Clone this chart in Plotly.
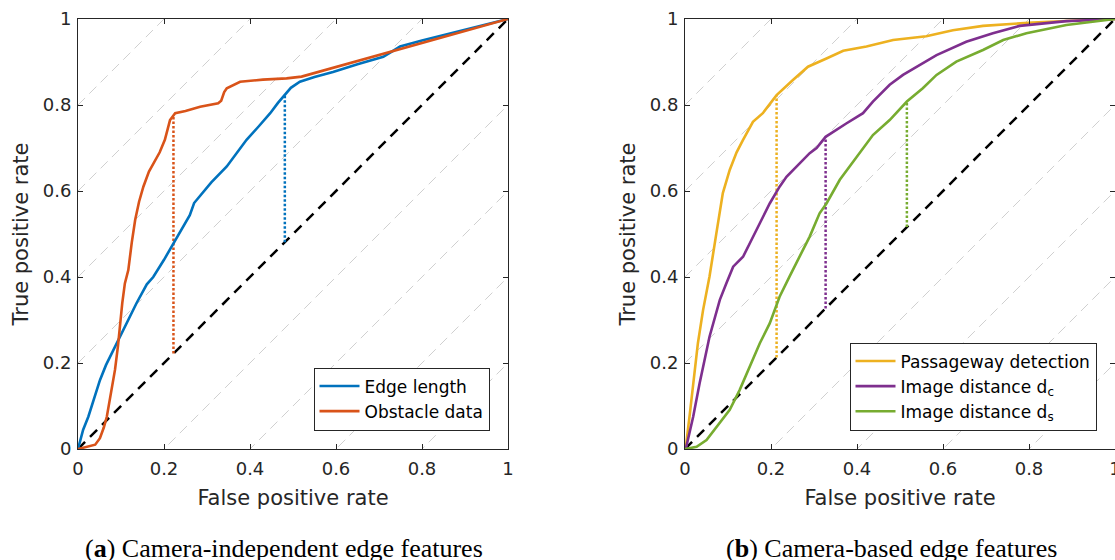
import plotly.graph_objects as go

# ---------------- data ----------------
edge_fpr = [0, 0.005, 0.012, 0.024, 0.035, 0.051, 0.065, 0.082, 0.098, 0.115, 0.136, 0.16, 0.175,
            0.2, 0.222, 0.24, 0.26, 0.27, 0.276, 0.31, 0.346, 0.37, 0.392, 0.42, 0.447, 0.465,
            0.481, 0.495, 0.516, 0.55, 0.593, 0.65, 0.71, 0.749, 0.8, 0.9, 1]
edge_tpr = [0, 0.021, 0.045, 0.075, 0.11, 0.16, 0.195, 0.23, 0.261, 0.295, 0.339, 0.383, 0.40,
            0.44, 0.478, 0.51, 0.544, 0.572, 0.579, 0.62, 0.657, 0.69, 0.719, 0.75, 0.781, 0.805,
            0.823, 0.84, 0.854, 0.865, 0.877, 0.895, 0.912, 0.936, 0.95, 0.975, 1]

obst_fpr = [0, 0.02, 0.04, 0.051, 0.06, 0.067, 0.077, 0.086, 0.093, 0.098, 0.103, 0.109, 0.117,
            0.125, 0.133, 0.142, 0.152, 0.165, 0.179, 0.19, 0.202, 0.208, 0.214, 0.226, 0.25,
            0.284, 0.326, 0.333, 0.34, 0.346, 0.377, 0.43, 0.485, 0.52, 1]
obst_tpr = [0, 0.005, 0.01, 0.025, 0.05, 0.075, 0.13, 0.184, 0.24, 0.3, 0.34, 0.385, 0.416,
            0.48, 0.533, 0.575, 0.61, 0.645, 0.672, 0.69, 0.719, 0.745, 0.765, 0.781, 0.786,
            0.796, 0.804, 0.81, 0.83, 0.839, 0.854, 0.859, 0.862, 0.866, 1]

pass_fpr = [0, 0.003, 0.011, 0.019, 0.03, 0.042, 0.057, 0.073, 0.088, 0.104, 0.12, 0.135, 0.158,
            0.181, 0.213, 0.251, 0.286, 0.329, 0.368, 0.422, 0.484, 0.561, 0.623, 0.693, 0.809,
            0.925, 1]
pass_tpr = [0, 0.013, 0.08, 0.153, 0.246, 0.323, 0.401, 0.502, 0.595, 0.649, 0.69, 0.719, 0.761,
            0.781, 0.823, 0.858, 0.889, 0.908, 0.926, 0.936, 0.951, 0.96, 0.974, 0.984, 0.992,
            0.997, 1]

dc_fpr = [0, 0.003, 0.019, 0.034, 0.057, 0.081, 0.096, 0.112, 0.135, 0.15, 0.174, 0.197, 0.22,
          0.236, 0.259, 0.29, 0.306, 0.327, 0.375, 0.414, 0.437, 0.476, 0.507, 0.546, 0.585,
          0.654, 0.716, 0.778, 0.887, 1]
dc_tpr = [0, 0.005, 0.075, 0.153, 0.261, 0.347, 0.385, 0.424, 0.447, 0.478, 0.525, 0.571, 0.61,
          0.633, 0.657, 0.688, 0.70, 0.726, 0.757, 0.781, 0.808, 0.847, 0.87, 0.893, 0.916,
          0.947, 0.967, 0.984, 0.995, 1]

ds_fpr = [0, 0.027, 0.05, 0.081, 0.104, 0.127, 0.15, 0.174, 0.197, 0.22, 0.243, 0.267, 0.29,
          0.313, 0.329, 0.36, 0.399, 0.437, 0.476, 0.516, 0.553, 0.585, 0.631, 0.693, 0.74,
          0.794, 0.887, 1]
ds_tpr = [0, 0.005, 0.021, 0.06, 0.091, 0.137, 0.191, 0.246, 0.292, 0.354, 0.401, 0.447, 0.494,
          0.548, 0.571, 0.626, 0.68, 0.73, 0.765, 0.808, 0.839, 0.87, 0.901, 0.928, 0.951,
          0.967, 0.986, 1]

# optimal operating points (Youden): FPR and TPR
opt_left_fpr = [0.481, 0.222]
opt_left_tpr = [0.823, 0.775]
opt_right_fpr = [0.213, 0.327, 0.516]
opt_right_tpr = [0.823, 0.726, 0.808]

iso_offsets = [-0.8, -0.6, -0.4, -0.2, 0.2, 0.4, 0.6, 0.8]
tick_vals = [0, 0.2, 0.4, 0.6, 0.8, 1]
tick_text = ["0", "0.2", "0.4", "0.6", "0.8", "1"]

left_names = ["Edge length", "Obstacle data"]
left_colors = ["#0072BD", "#D95319"]
right_names = ["Passageway detection", "Image distance d<sub>c</sub>", "Image distance d<sub>s</sub>"]
right_colors = ["#EDB120", "#7E2F8E", "#77AC30"]

# ---------------- figure ----------------
W, H = 1115, 560
fig = go.Figure()

def add_panel(xa, ya, series, opt_fpr, opt_tpr, colors, names, legend):
    # iso-Youden gray lines
    for k in iso_offsets:
        fig.add_trace(go.Scatter(x=[0, 1], y=[k, 1 + k], mode="lines",
                                 line=dict(color="#d0d0d0", width=1, dash="10px,6px"),
                                 showlegend=False, hoverinfo="skip", xaxis=xa, yaxis=ya))
    # chance diagonal
    fig.add_trace(go.Scatter(x=[0, 1], y=[0, 1], mode="lines",
                             line=dict(color="black", width=2.5, dash="10px,7px"),
                             showlegend=False, hoverinfo="skip", xaxis=xa, yaxis=ya))
    # dotted lines from diagonal to operating point
    for fx, ty, c in zip(opt_fpr, opt_tpr, colors):
        fig.add_trace(go.Scatter(x=[fx, fx], y=[fx, ty], mode="lines",
                                 line=dict(color=c, width=2.5, dash="2.5px,2px"),
                                 showlegend=False, hoverinfo="skip", xaxis=xa, yaxis=ya))
    for (fx, ty), c, n in zip(series, colors, names):
        fig.add_trace(go.Scatter(x=fx, y=ty, mode="lines", name=n,
                                 line=dict(color=c, width=2.6),
                                 legend=legend, xaxis=xa, yaxis=ya))

add_panel("x", "y", [(edge_fpr, edge_tpr), (obst_fpr, obst_tpr)],
          opt_left_fpr, opt_left_tpr, left_colors, left_names, "legend")
add_panel("x2", "y2", [(pass_fpr, pass_tpr), (dc_fpr, dc_tpr), (ds_fpr, ds_tpr)],
          opt_right_fpr, opt_right_tpr, right_colors, right_names, "legend2")

axis_common = dict(range=[0, 1], tickvals=tick_vals, ticktext=tick_text, automargin=False,
                   showgrid=False, zeroline=False, showline=True, linecolor="#262626",
                   linewidth=1, mirror="ticks", ticks="inside", ticklen=5,
                   ticklabeloverflow="allow",
                   tickcolor="#262626", tickfont=dict(family="DejaVu Sans", size=18, color="#262626"),
                   title_font=dict(family="DejaVu Sans", size=21, color="#262626"))

y0, y1 = 1 - 449 / H, 1 - 19 / H
fig.update_layout(
    width=W, height=H, margin=dict(l=0, r=0, t=0, b=0),
    paper_bgcolor="white", plot_bgcolor="white",
    xaxis=dict(domain=[78 / W, 508 / W], anchor="y", title_text="False positive rate",
               title_standoff=12, ticklabelstandoff=3, **axis_common),
    yaxis=dict(domain=[y0, y1], anchor="x", title_text="True positive rate",
               title_standoff=8, ticklabelstandoff=2, **axis_common),
    xaxis2=dict(domain=[685 / W, 1.0], anchor="y2", title_text="False positive rate",
                title_standoff=12, ticklabelstandoff=3, **axis_common),
    yaxis2=dict(domain=[y0, y1], anchor="x2", title_text="True positive rate",
                title_standoff=8, ticklabelstandoff=2, **axis_common),
    legend=dict(x=489.5 / W, y=1 - 430.5 / H, xanchor="right", yanchor="bottom",
                bordercolor="#262626", borderwidth=1, bgcolor="white",
                font=dict(family="DejaVu Sans", size=17, color="#000000"),
                tracegroupgap=0, itemwidth=40),
    legend2=dict(x=1096.5 / W, y=1 - 430.5 / H, xanchor="right", yanchor="bottom",
                 bordercolor="#262626", borderwidth=1, bgcolor="white",
                 font=dict(family="DejaVu Sans", size=17, color="#000000"),
                 tracegroupgap=0, itemwidth=40),
    annotations=[
        dict(text="(<b>a</b>) Camera-independent edge features", x=284 / W, y=1 - 548 / H,
             xref="paper", yref="paper", xanchor="center", yanchor="middle", showarrow=False,
             font=dict(family="Liberation Serif", size=26, color="black")),
        dict(text="(<b>b</b>) Camera-based edge features", x=891 / W, y=1 - 548 / H,
             xref="paper", yref="paper", xanchor="center", yanchor="middle", showarrow=False,
             font=dict(family="Liberation Serif", size=26, color="black")),
    ],
)

fig.write_html("out.html")
